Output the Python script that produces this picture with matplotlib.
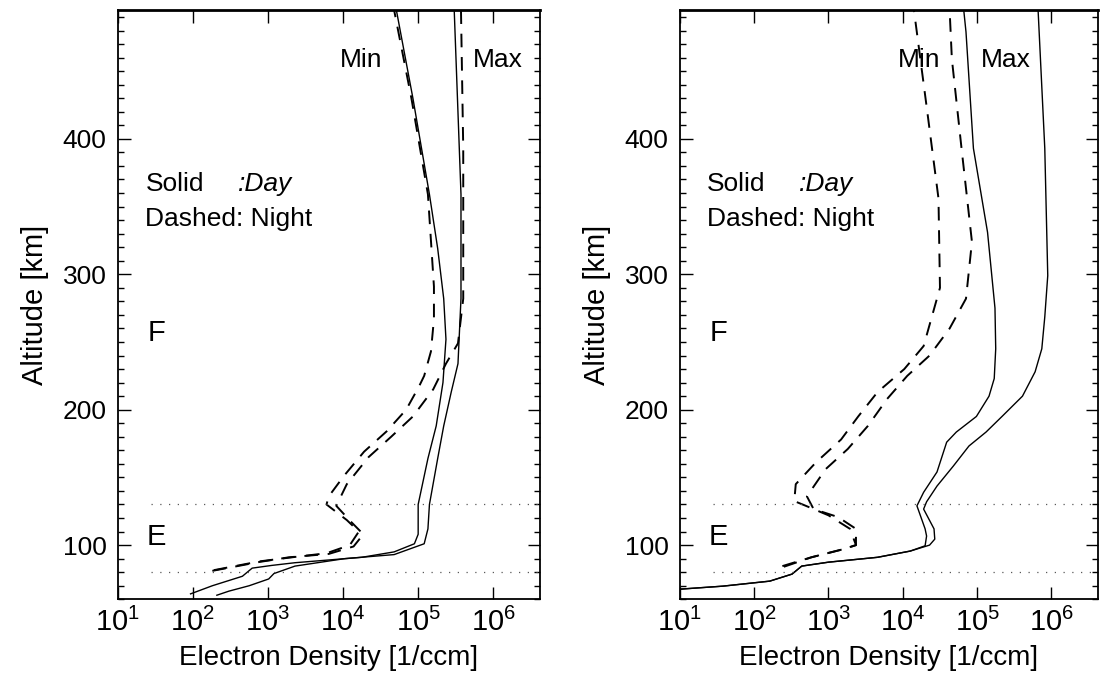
import numpy as np
import matplotlib
matplotlib.use("Agg")
import matplotlib.pyplot as plt
from matplotlib.ticker import FixedLocator, LogLocator, NullFormatter, FuncFormatter

plt.rcParams["font.family"] = ["Liberation Sans", "DejaVu Sans"]
plt.rcParams["mathtext.fontset"] = "custom"
plt.rcParams["mathtext.rm"] = "Liberation Sans"
plt.rcParams["mathtext.it"] = "Liberation Sans:italic"

# profiles: log10 of electron density [1/ccm] vs altitude [km]
# left panel
a_min_day_logn = [1.97, 2.26, 2.66, 2.79, 3.05, 3.36, 4.25, 4.68, 4.95, 5.00, 5.00, 5.13, 5.24, 5.33, 5.37, 5.34, 5.26, 5.15, 4.93, 4.71]
a_min_day_alt = [64, 70, 77, 83, 85, 87, 91, 95, 101, 108, 130, 164, 188, 220, 252, 282, 319, 359, 430, 495]
a_max_day_logn = [2.32, 2.48, 2.75, 3.01, 3.08, 3.36, 4.02, 4.68, 5.08, 5.13, 5.15, 5.26, 5.34, 5.44, 5.53, 5.57, 5.57, 5.48]
a_max_day_alt = [63, 66, 70, 75, 79, 84.5, 90, 93, 101, 112, 130, 164, 188, 213, 234, 282, 359, 495]
a_min_night_logn = [2.28, 2.89, 3.32, 3.78, 4.09, 4.21, 4.05, 3.78, 3.81, 4.01, 4.28, 4.58, 4.84, 5.01, 5.08, 5.17, 5.21, 5.21, 5.13, 4.91, 4.68]
a_min_night_alt = [81.5, 88, 91, 94, 100, 110, 118.5, 130, 136, 151, 169, 184, 200, 217, 225, 243, 267, 291, 359, 430, 495]
a_max_night_logn = [2.26, 2.88, 3.28, 3.81, 4.14, 4.27, 4.11, 3.91, 4.05, 4.34, 4.64, 4.93, 5.20, 5.37, 5.53, 5.60, 5.60, 5.57]
a_max_night_alt = [81, 87.5, 91, 93.5, 99, 108, 117, 129, 145, 165, 180, 195, 215, 234, 249, 282, 393, 495]

# right panel
b_min_day_logn = [1.01, 1.58, 2.21, 2.51, 2.64, 3.00, 3.66, 4.10, 4.30, 4.32, 4.30, 4.19, 4.28, 4.46, 4.59, 4.72, 4.99, 5.16, 5.23, 5.25, 5.24, 5.14, 4.95, 4.85, 4.82]
b_min_day_alt = [67.5, 69.7, 73.4, 78.6, 84.5, 87.4, 91, 95.6, 99.5, 106.7, 112, 129, 139, 154, 176, 183.5, 195, 210, 223, 245, 275, 331, 393, 479, 495]
b_max_day_logn = [1.01, 1.58, 2.21, 2.51, 2.64, 3.00, 3.66, 4.10, 4.36, 4.43, 4.42, 4.28, 4.32, 4.46, 4.68, 4.89, 5.12, 5.34, 5.61, 5.78, 5.87, 5.91, 5.95, 5.91, 5.82]
b_max_day_alt = [67.5, 69.7, 73.4, 78.6, 84.5, 87.4, 91, 95.6, 100, 104.4, 112, 126.6, 132, 143.6, 158.4, 173.2, 183.5, 195.3, 210, 228, 245, 268.5, 299, 393, 495]
b_min_night_logn = [2.38, 2.77, 3.20, 3.37, 3.29, 3.00, 2.67, 2.54, 2.56, 2.83, 3.17, 3.40, 3.66, 4.02, 4.28, 4.50, 4.48, 4.32, 4.15]
b_min_night_alt = [84.5, 91, 97, 100, 112, 122, 129.6, 132.5, 145, 161, 178, 195, 213, 230, 247, 290, 356, 424, 495]
b_max_night_logn = [2.40, 2.77, 3.20, 3.37, 3.37, 3.13, 2.80, 2.71, 2.96, 3.26, 3.53, 3.79, 4.06, 4.36, 4.63, 4.85, 4.93, 4.79, 4.66, 4.63]
b_max_night_alt = [84, 91, 97, 100, 112, 120.7, 126.6, 136, 156, 171, 188, 208, 225, 240, 260, 282, 324, 393, 459, 495]

layer_alts = [80, 130]
layer_names = ["E", "F"]
layer_label_alts = [106, 257]
decades = [1, 2, 3, 4, 5, 6]

fig = plt.figure(figsize=(11, 6.81), dpi=100)
ax1 = fig.add_axes([0.107, 0.120, 0.384, 0.865])
ax2 = fig.add_axes([0.618, 0.120, 0.380, 0.865])

panels = [
    (ax1, [(a_min_day_logn, a_min_day_alt, "-"), (a_max_day_logn, a_max_day_alt, "-"),
           (a_min_night_logn, a_min_night_alt, "--"), (a_max_night_logn, a_max_night_alt, "--")],
     (10 ** 4.245, 10 ** 6.06)),
    (ax2, [(b_min_day_logn, b_min_day_alt, "-"), (b_max_day_logn, b_max_day_alt, "-"),
           (b_min_night_logn, b_min_night_alt, "--"), (b_max_night_logn, b_max_night_alt, "--")],
     (10 ** 4.22, 10 ** 5.38)),
]


def decade_label(v, pos):
    return r"$\mathregular{10^{%d}}$" % round(np.log10(v))


for ax, curves, (min_x, max_x) in panels:
    for logn, alt, ls in curves:
        dens = 10 ** np.array(logn)
        if ls == "-":
            ax.plot(dens, alt, color="black", lw=1.0)
        else:
            ax.plot(dens, alt, color="black", lw=1.4, dashes=(7, 5))

    for h in layer_alts:
        ax.axhline(h, xmin=0.08, color="0.35", lw=0.9, ls=(0, (1, 6)))

    ax.set_xscale("log")
    ax.set_xlim(10, 4.2e6)
    ax.set_ylim(60, 495)

    ax.xaxis.set_major_locator(FixedLocator([10.0 ** d for d in decades]))
    ax.xaxis.set_major_formatter(FuncFormatter(decade_label))
    ax.xaxis.set_minor_locator(LogLocator(base=10, subs=np.arange(2, 10)))
    ax.xaxis.set_minor_formatter(NullFormatter())
    ax.yaxis.set_major_locator(FixedLocator([100, 200, 300, 400]))
    ax.yaxis.set_minor_locator(FixedLocator(np.arange(60, 500, 10)))

    ax.tick_params(which="both", direction="in", top=True, right=True, width=1.0)
    ax.tick_params(which="major", length=9)
    ax.tick_params(which="minor", length=4)
    ax.tick_params(axis="x", labelsize=21, pad=6)
    ax.tick_params(axis="y", labelsize=19, pad=8)
    for sp in ax.spines.values():
        sp.set_linewidth(1.3)
    ax.spines["top"].set_linewidth(2.0)

    ax.set_xlabel("Electron Density [1/ccm]", fontsize=20, labelpad=6)
    ax.set_ylabel("Altitude [km]", fontsize=21, labelpad=10)

    ax.text(min_x, 458, "Min", fontsize=19, ha="center", va="center")
    ax.text(max_x, 458, "Max", fontsize=19, ha="center", va="center")

    ax.text(10 ** 1.37, 367, "Solid", fontsize=19, ha="left", va="center")
    ax.text(10 ** 2.6, 367, ":Day", fontsize=19, ha="left", va="center", style="italic")
    ax.text(10 ** 1.37, 341, "Dashed: Night", fontsize=19, ha="left", va="center")

    for name, h in zip(layer_names, layer_label_alts):
        ax.text(10 ** 1.52, h, name, fontsize=21, ha="center", va="center")

fig.savefig("out.png", dpi=100)
